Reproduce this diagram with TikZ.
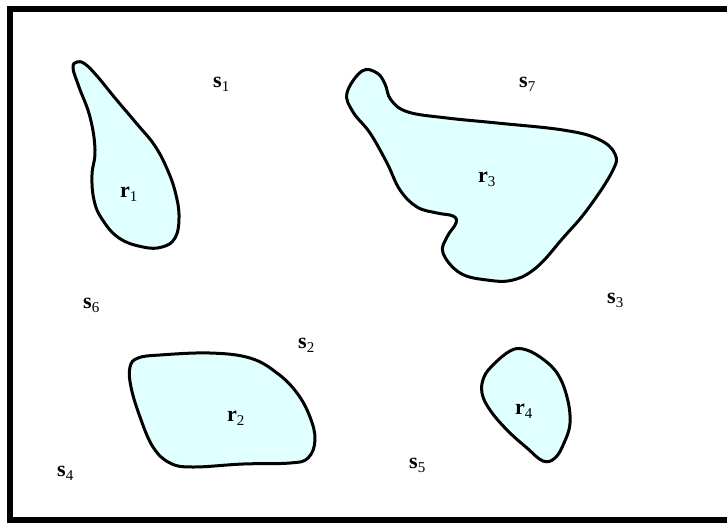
\documentclass[tikz,border=0pt]{standalone}
\usepackage{fontspec}
\setmainfont{Liberation Serif}
\definecolor{regionfill}{RGB}{224,255,255}
\tikzset{
  region/.style={draw=black, line width=3pt, fill=regionfill, line join=round},
  lbl/.style={anchor=base west, inner sep=0pt, font=\fontsize{22}{24}\selectfont},
  frame/.style={draw=black, line width=6pt}
}
\newcommand{\lab}[2]{\textbf{#1}\raisebox{-4pt}{\fontsize{15}{15}\selectfont #2}}
\begin{document}
\begin{tikzpicture}[x=1pt,y=-1pt]
\useasboundingbox (0,0) rectangle (727,523);
\clip (0,0) rectangle (727,523);
\fill[white] (0,0) rectangle (727,523);
\draw[frame] (10,9) rectangle (740,520);
% r1
\draw[region] plot[smooth cycle, tension=0.7] coordinates {
 (73,68) (79,87) (90,117) (95,150) (92,175) (94,200) (102,219) (119,238)
 (143,247) (162,247) (175,238) (179,218) (176,195) (168,171) (155,146)
 (137,124) (115,98) (97,76) (85,64) (77,62)};
% r3
\draw[region] plot[smooth cycle, tension=0.65] coordinates {
 (347,93) (362,71) (377,73) (385,84) (391,100) (408,112) (447,118) (497,123)
 (563,130) (598,139) (615,154) (612,172) (587,210) (563,238) (537,267)
 (513,280) (487,280) (460,273) (443,253) (447,237) (456,223) (453,216)
 (437,213) (417,207) (400,190) (387,163) (370,133) (353,112)};
% r2
\draw[region] plot[smooth cycle, tension=0.65] coordinates {
 (130,367) (138,358) (160,355) (210,353) (250,358) (277,373) (297,393)
 (310,417) (315,440) (308,458) (290,463) (243,464) (193,467) (170,463)
 (153,447) (140,417) (131,387)};
% r4
\draw[region] plot[smooth cycle, tension=0.65] coordinates {
 (510,351) (494,364) (484,377) (482,393) (490,410) (507,430) (527,448)
 (543,461) (555,458) (564,443) (570,423) (567,397) (557,373) (540,357)
 (523,349)};
% labels
\node[lbl] (s1) at (213,87) {\lab{s}{1}};
\node[lbl] (s7) at (519,87) {\lab{s}{7}};
\node[lbl] (r1) at (120,197) {\lab{r}{1}};
\node[lbl] (r3) at (478,182) {\lab{r}{3}};
\node[lbl] (s6) at (83,308) {\lab{s}{6}};
\node[lbl] (s3) at (607,303) {\lab{s}{3}};
\node[lbl] (s2) at (298,348) {\lab{s}{2}};
\node[lbl] (r2) at (227,421) {\lab{r}{2}};
\node[lbl] (r4) at (515,414) {\lab{r}{4}};
\node[lbl] (s4) at (57,476) {\lab{s}{4}};
\node[lbl] (s5) at (409,468) {\lab{s}{5}};
\end{tikzpicture}
\end{document}
